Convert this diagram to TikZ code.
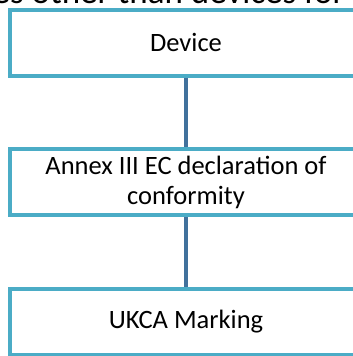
\documentclass[tikz,border=0pt]{standalone}
\usepackage{fontspec}
\setmainfont{Carlito}

\definecolor{boxcol}{HTML}{4BACC6}
\definecolor{linkcol}{HTML}{41719C}

\tikzset{
  stage/.style={draw=boxcol, line width=4pt, fill=white, inner sep=0pt,
    minimum width=352pt, minimum height=66pt, align=center,
    font=\fontsize{26.5}{30}\selectfont},
  link/.style={draw=linkcol, line width=4pt}
}

\begin{document}
\begin{tikzpicture}[x=1pt,y=1pt]
    \useasboundingbox (0,0) rectangle (353,-356);
    \clip (0,0) rectangle (353,-356);
    % heading line, only its lower part shows
    \node[anchor=base east, inner sep=0pt, font=\fontsize{35}{40}\selectfont] (head) at (345,-3) {devices other than devices for};
    % the three stages
    \node[stage] (device) at (186,-42.5) {Device};
    \node[stage] (decl) at (186,-182) {Annex III EC declaration of\\conformity};
    \node[stage] (ukca) at (186,-322) {UKCA Marking};
    \draw[link] (device) -- (decl);
    \draw[link] (decl) -- (ukca);
\end{tikzpicture}
\end{document}
